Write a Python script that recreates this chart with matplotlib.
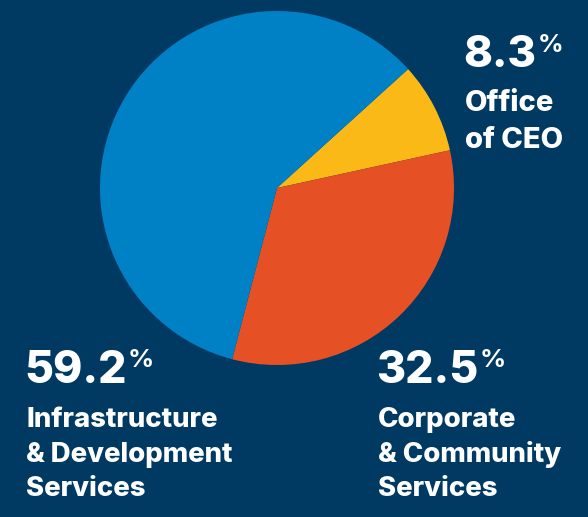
import matplotlib.pyplot as plt

labels = ['Office\nof CEO', 'Corporate\n& Community\nServices', 'Infrastructure\n& Development\nServices']
shares = [8.3, 32.5, 59.2]
colors = ['#fbb917', '#e55124', '#0081c6']
bg = '#003a63'

W, H = 588, 517
fig = plt.figure(figsize=(W / 100, H / 100), dpi=100, facecolor=bg)

# pie centre and radius in pixels
cx, cy, r = 277, 188, 177
ax = fig.add_axes([(cx - r) / W, (H - cy - r) / H, 2 * r / W, 2 * r / H])
ax.pie(shares, colors=colors, startangle=42.2, counterclock=False, radius=1,
       wedgeprops={'linewidth': 0})
ax.set_xlim(-1, 1)
ax.set_ylim(-1, 1)
ax.axis('off')

font = 'Inter'


def label_block(x, y_num, y_first, step, value, text, num_size, txt_size):
    num = fig.text(x / W, 1 - y_num / H, f'{value:.1f}', color='white',
                   fontsize=num_size, fontweight='heavy', family=font, va='baseline')
    ax.annotate('%', xy=(1, 1), xycoords=num, xytext=(1, 1), textcoords='offset points',
                color='white', fontsize=num_size * 0.58, fontweight='bold', family=font,
                va='top', ha='left')
    for i, line in enumerate(text.split('\n')):
        fig.text((x + 2) / W, 1 - (y_first + i * step) / H, line, color='white',
                 fontsize=txt_size, fontweight='heavy', family=font, va='baseline')


label_block(463, 67, 111, 37, shares[0], labels[0], 31.5, 21)
label_block(376, 383, 427, 34.5, shares[1], labels[1], 32, 19.8)
label_block(24, 383, 427, 34.5, shares[2], labels[2], 32, 19.8)

fig.savefig('out.png', dpi=100, facecolor=bg)
